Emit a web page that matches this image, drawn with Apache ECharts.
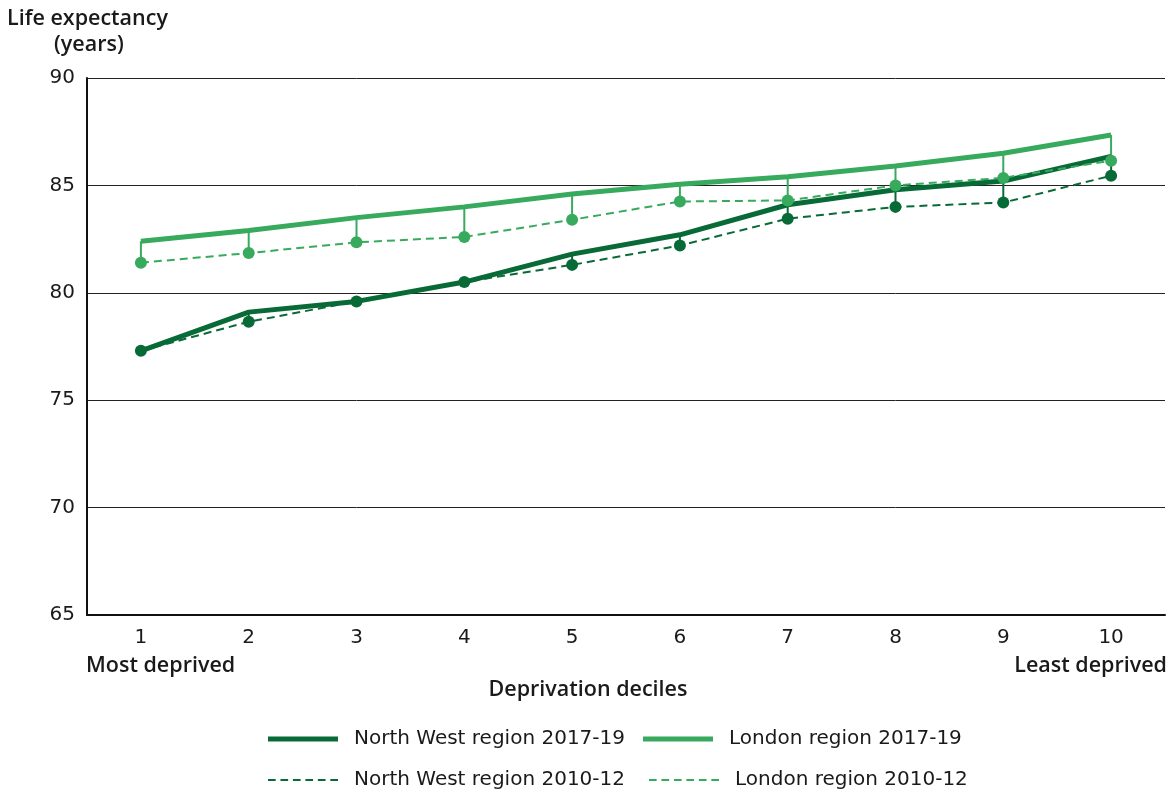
<!DOCTYPE html>
<html>
<head>
<meta charset="utf-8">
<script src="https://cdn.jsdelivr.net/npm/echarts@6/dist/echarts.min.js"></script>
<style>
html,body{margin:0;padding:0;background:#fff;}
#chart{width:1176px;height:794px;}
</style>
</head>
<body>
<div id="chart"></div>
<script>
const categories = ['1','2','3','4','5','6','7','8','9','10'];
const yTicks = [65, 70, 75, 80, 85, 90];
const nw2017 = [77.3, 79.1, 79.6, 80.5, 81.8, 82.7, 84.1, 84.8, 85.2, 86.35];
const nw2010 = [77.3, 78.65, 79.6, 80.5, 81.3, 82.2, 83.45, 84.0, 84.2, 85.45];
const ldn2017 = [82.4, 82.9, 83.5, 84.0, 84.6, 85.05, 85.4, 85.9, 86.5, 87.35];
const ldn2010 = [81.4, 81.85, 82.35, 82.6, 83.4, 84.25, 84.3, 85.0, 85.35, 86.15];
const seriesNames = ['North West region 2017-19','London region 2017-19','North West region 2010-12','London region 2010-12'];

const DARK = '#086a36';
const LIGHT = '#37aa5e';
const FONT = 'DejaVu Sans';
const TXT = '#1a1a1a';
const TITLE_FONT = '600 21.5px "Open Sans"';

const solidIcon = 'path://M0,0h70v5h-70z';
const dashIcon = 'path://M0,0h8v2h-8z M13,0h8v2h-8z M26,0h8v2h-8z M39,0h8v2h-8z M52,0h8v2h-8z M65,0h8v2h-8z';

function connectorSeries(a, b, color) {
  return {
    type: 'custom',
    data: categories.map((c, i) => [i, a[i], b[i]]),
    encode: { x: 0, y: [1, 2] },
    silent: true,
    z: 1,
    renderItem: function (params, api) {
      const p1 = api.coord([api.value(0), api.value(1)]);
      const p2 = api.coord([api.value(0), api.value(2)]);
      return {
        type: 'line',
        shape: { x1: p1[0], y1: p1[1], x2: p2[0], y2: p2[1] },
        style: { stroke: color, lineWidth: 2 }
      };
    }
  };
}

const legendText = { fontSize: 20, color: TXT, fontFamily: FONT, padding: [0, 0, 0, 11] };

const chart = echarts.init(document.getElementById('chart'));
chart.setOption({
  animation: false,
  backgroundColor: '#fff',
  textStyle: { fontFamily: FONT, color: TXT },
  grid: { left: 87, right: 11, top: 78, bottom: 179 },
  xAxis: {
    type: 'category',
    data: categories,
    boundaryGap: true,
    axisLine: { lineStyle: { color: '#111', width: 2 } },
    axisTick: { show: false },
    axisLabel: { fontSize: 20, color: TXT, margin: 13, fontFamily: FONT }
  },
  yAxis: {
    type: 'value',
    min: yTicks[0],
    max: yTicks[yTicks.length - 1],
    interval: 5,
    axisLine: { show: true, lineStyle: { color: '#111', width: 2 } },
    axisTick: { show: false },
    axisLabel: { fontSize: 20, color: TXT, margin: 12, fontFamily: FONT },
    splitLine: { lineStyle: { color: '#222', width: 1 } }
  },
  legend: [
    {
      top: 724, left: 263,
      itemWidth: 70, itemHeight: 5, itemGap: 18,
      symbolKeepAspect: false,
      textStyle: legendText,
      data: [
        { name: seriesNames[0], icon: solidIcon },
        { name: seriesNames[1], icon: solidIcon }
      ]
    },
    {
      top: 765, left: 263,
      itemWidth: 70, itemHeight: 2, itemGap: 24,
      symbolKeepAspect: false,
      textStyle: legendText,
      data: [
        { name: seriesNames[2], icon: dashIcon },
        { name: seriesNames[3], icon: dashIcon }
      ]
    }
  ],
  graphic: [
    { type: 'text', left: 7, top: 8, style: { text: 'Life expectancy', font: TITLE_FONT, fill: TXT } },
    { type: 'text', left: 54, top: 34, style: { text: '(years)', font: TITLE_FONT, fill: TXT } },
    { type: 'text', left: 86, top: 655, style: { text: 'Most deprived', font: TITLE_FONT, fill: TXT } },
    { type: 'text', right: 9, top: 655, style: { text: 'Least deprived', font: TITLE_FONT, fill: TXT } },
    { type: 'text', left: 'center', top: 679, style: { text: 'Deprivation deciles', font: TITLE_FONT, fill: TXT } }
  ],
  series: [
    connectorSeries(ldn2017, ldn2010, LIGHT),
    connectorSeries(nw2017, nw2010, DARK),
    {
      name: seriesNames[1], type: 'line', data: ldn2017, z: 2,
      symbol: 'none', color: LIGHT,
      lineStyle: { color: LIGHT, width: 5 }
    },
    {
      name: seriesNames[0], type: 'line', data: nw2017, z: 3,
      symbol: 'none', color: DARK,
      lineStyle: { color: DARK, width: 5 }
    },
    {
      name: seriesNames[3], type: 'line', data: ldn2010, z: 4,
      symbol: 'circle', symbolSize: 12, color: LIGHT,
      itemStyle: { color: LIGHT },
      lineStyle: { color: LIGHT, width: 2, type: [8, 5] }
    },
    {
      name: seriesNames[2], type: 'line', data: nw2010, z: 5,
      symbol: 'circle', symbolSize: 12, color: DARK,
      itemStyle: { color: DARK },
      lineStyle: { color: DARK, width: 2, type: [8, 5] }
    }
  ]
});
</script>
</body>
</html>
